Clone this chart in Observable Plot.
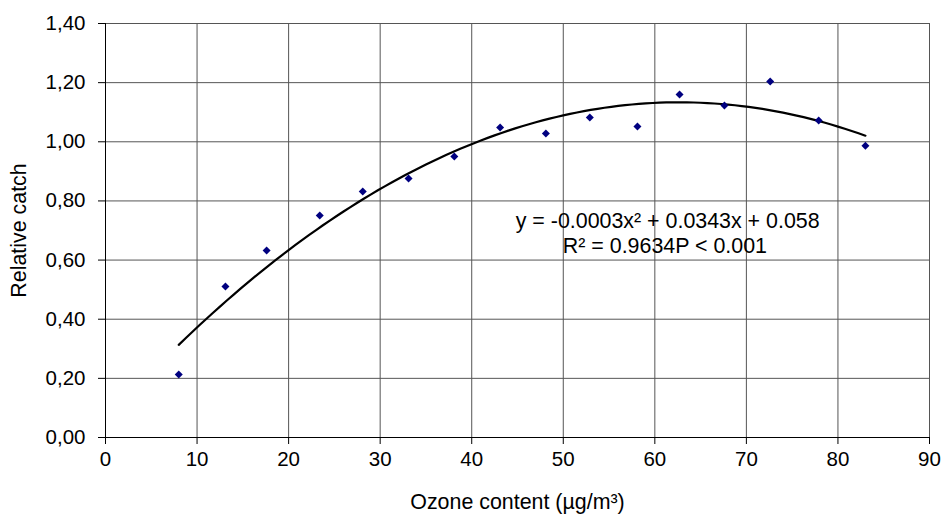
<!DOCTYPE html>
<html><head><meta charset="utf-8">
<script src="https://cdn.jsdelivr.net/npm/d3@7"></script>
<script src="https://cdn.jsdelivr.net/npm/@observablehq/plot@0.6"></script>
<style>body{margin:0;background:#fff} svg{display:block}</style>
</head><body><div id="chart"></div>
<script>
const ozone = [8.0, 13.1, 17.6, 23.4, 28.1, 33.1, 38.1, 43.1, 48.1, 52.9, 58.1, 62.7, 67.6, 72.6, 77.9, 83.0];
const relCatch = [0.213, 0.511, 0.632, 0.751, 0.832, 0.876, 0.950, 1.048, 1.028, 1.082, 1.052, 1.160, 1.123, 1.204, 1.072, 0.987];
const xTicks = [0, 10, 20, 30, 40, 50, 60, 70, 80, 90];
const yTicks = [0, 0.2, 0.4, 0.6, 0.8, 1.0, 1.2, 1.4];
const xLabel = "Ozone content (µg/m³)";
const yLabel = "Relative catch";
const eqLine1 = "y = -0.0003x² + 0.0343x + 0.058";
const eqLine2 = "R² = 0.9634P < 0.001";

const points = ozone.map((x, i) => ({x, y: relCatch[i]}));

// least-squares quadratic trendline (as the spreadsheet computed it)
function quadFit(xs, ys) {
  let S = [0,0,0,0,0], T = [0,0,0];
  xs.forEach((x, i) => {
    for (let k = 0; k < 5; k++) S[k] += x ** k;
    for (let k = 0; k < 3; k++) T[k] += ys[i] * x ** k;
  });
  const M = [[S[0],S[1],S[2],T[0]],[S[1],S[2],S[3],T[1]],[S[2],S[3],S[4],T[2]]];
  for (let i = 0; i < 3; i++) {
    for (let j = i + 1; j < 3; j++) {
      const f = M[j][i] / M[i][i];
      for (let k = i; k < 4; k++) M[j][k] -= f * M[i][k];
    }
  }
  const c = [0,0,0];
  for (let i = 2; i >= 0; i--) {
    let s = M[i][3];
    for (let k = i + 1; k < 3; k++) s -= M[i][k] * c[k];
    c[i] = s / M[i][i];
  }
  return c; // c0 + c1 x + c2 x^2
}
const coef = quadFit(ozone, relCatch);
const x0 = d3.min(ozone), x1 = d3.max(ozone);
const trend = d3.range(0, 101).map(i => {
  const x = x0 + (x1 - x0) * i / 100;
  return {x, y: coef[0] + coef[1] * x + coef[2] * x * x};
});

const fmt = d => d.toFixed(2).replace(".", ",");
const font = "'Liberation Sans', Arial, sans-serif";

const chart = Plot.plot({
  width: 941,
  height: 515,
  marginLeft: 105,
  marginRight: 12,
  marginTop: 23,
  marginBottom: 78,
  style: {fontFamily: font, fontSize: "20.5px", background: "#fff", color: "#000"},
  x: {domain: [0, 90]},
  y: {domain: [0, 1.4]},
  marks: [
    Plot.gridX(xTicks, {stroke: "#555", strokeOpacity: 1, strokeWidth: 1}),
    Plot.gridY(yTicks, {stroke: "#555", strokeOpacity: 1, strokeWidth: 1}),
    Plot.axisX({ticks: xTicks, tickSize: 7, tickPadding: 7, fontSize: 20.5, label: null}),
    Plot.axisX({ticks: [], tickSize: 0, fontSize: 21.4, label: xLabel, labelAnchor: "center", labelOffset: 71, labelArrow: "none"}),
    Plot.axisY({ticks: yTicks, tickSize: 7, tickPadding: 13, fontSize: 20.5, tickFormat: fmt, label: null}),
    Plot.axisY({ticks: [], tickSize: 0, fontSize: 21.4, label: yLabel, labelAnchor: "center", labelOffset: 95, labelArrow: "none"}),
    Plot.ruleX([0], {stroke: "#000"}),
    Plot.ruleY([0], {stroke: "#000"}),
    Plot.line(trend, {x: "x", y: "y", stroke: "#000", strokeWidth: 2.2}),
    Plot.dot(points, {x: "x", y: "y", symbol: "diamond2", r: 3.6, fill: "#000080", stroke: "none"}),
    Plot.text([eqLine1], {x: 61.4, y: 0.731, text: d => d, textAnchor: "middle", fontSize: 21.4, fill: "#000"}),
    Plot.text([eqLine2], {x: 61.1, y: 0.646, text: d => d, textAnchor: "middle", fontSize: 21.4, fill: "#000"})
  ]
});
document.getElementById("chart").appendChild(chart);
</script>
</body></html>
